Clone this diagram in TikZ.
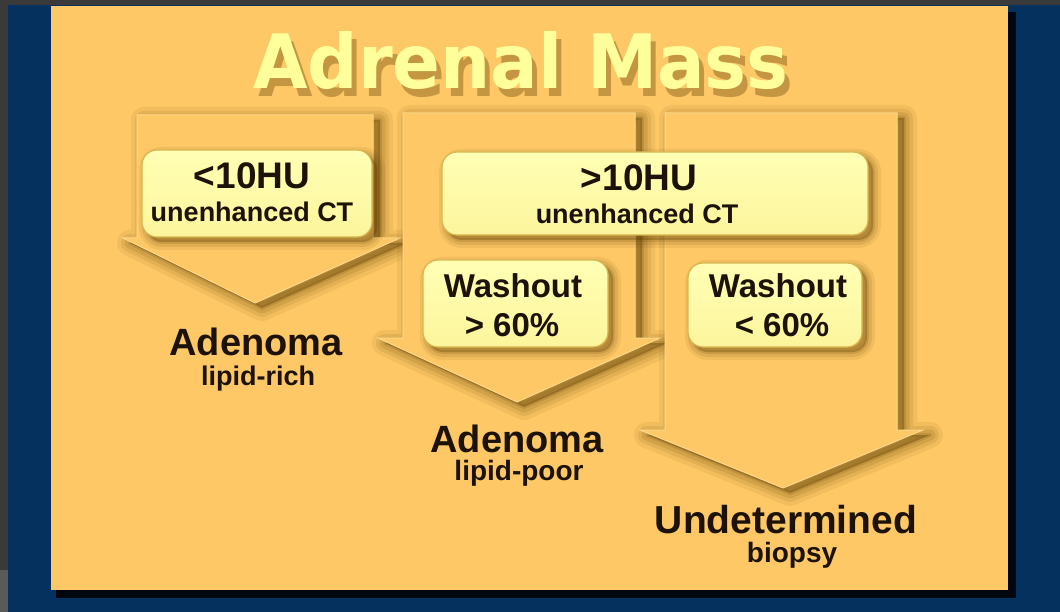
\documentclass[tikz,border=0pt]{standalone}
\usepackage{fontspec}
\setmainfont{Liberation Sans}
\newfontfamily\titlefont{DejaVu Sans}
\definecolor{bggray}{HTML}{3A3A3A}
\definecolor{bggraylt}{HTML}{5A5A5A}
\definecolor{navy}{HTML}{05315F}
\definecolor{panelc}{HTML}{FDC865}
\definecolor{shadowc}{HTML}{5A3A00}
\definecolor{hilite}{HTML}{FFD88A}
\definecolor{boxtop}{HTML}{FFFFB4}
\definecolor{boxbot}{HTML}{FCF59C}
\definecolor{boxedge}{HTML}{D6B650}
\definecolor{inkc}{HTML}{1C1208}
\definecolor{titlec}{HTML}{FFFF9C}
\tikzset{
  boxst/.style={rectangle, rounded corners=15pt, top color=boxtop, bottom color=boxbot, draw=boxedge, line width=1.2pt, inner sep=0pt},
  bigtxt/.style={text=inkc, font=\bfseries\fontsize{38}{40}\selectfont, anchor=base, inner sep=0pt},
  smalltxt/.style={text=inkc, font=\bfseries\fontsize{27}{29}\selectfont, anchor=base, inner sep=0pt},
  hutxt/.style={text=inkc, font=\bfseries\fontsize{37}{39}\selectfont, anchor=base, inner sep=0pt},
  washtxt/.style={text=inkc, font=\bfseries\fontsize{33}{35}\selectfont, anchor=base, inner sep=0pt},
  titletxt/.style={font=\titlefont\bfseries\fontsize{75}{80}\selectfont, anchor=base, inner sep=0pt, xscale=0.94},
}
% block arrow: L, R, top, headbase, headL, headR, tipx, tipy
\newcommand\blockarrow[8]{%
  \foreach \sw/\so in {26/0.07,18/0.09,11/0.12,4/0.15}{%
    \path[draw=shadowc, fill=shadowc, draw opacity=\so, fill opacity=\so, line width=\sw pt, line join=round, xshift=7pt, yshift=-5pt]
      (#1,#3) -- (#2,#3) -- (#2,#4) -- (#6,#4) -- (#7,#8) -- (#5,#4) -- (#1,#4) -- cycle;}%
  \path[fill=panelc, draw=hilite, line width=1pt, line join=miter]
      (#1,#3) -- (#2,#3) -- (#2,#4) -- (#6,#4) -- (#7,#8) -- (#5,#4) -- (#1,#4) -- cycle;
}
% rounded box: name, cx, cy, w, h
\newcommand\ybox[5]{%
  \foreach \sw/\so in {16/0.08,10/0.11,4/0.15}{%
    \path[draw=shadowc, fill=shadowc, draw opacity=\so, fill opacity=\so, line width=\sw pt, rounded corners=15pt, xshift=5pt, yshift=-5pt]
      ({#2-#4/2},{#3-#5/2}) rectangle ({#2+#4/2},{#3+#5/2});}%
  \node[boxst, minimum width=#4pt, minimum height=#5pt] (#1) at (#2,#3) {};
}
\begin{document}
\begin{tikzpicture}[x=1pt, y=-1pt]
  \useasboundingbox (0,0) rectangle (1060,612);
  \clip (0,0) rectangle (1060,612);
  % frame
  \fill[bggray] (0,0) rectangle (1060,612);
  \fill[navy] (8,5) rectangle (1060,612);
  \fill[bggraylt] (0,570) rectangle (8,612);
  \fill[black!85!navy] (56,12) rectangle (1016,598);
  \fill[panelc] (51,6) rectangle (1008,590);
  % title with shadow
  \node[titletxt, text=shadowc, text opacity=0.35] (tshadow) at (526,97) {Adrenal Mass};
  \node[titletxt, text=titlec] (title) at (521,89) {Adrenal Mass};
  % arrows
  \blockarrow{137}{373}{115}{238}{123}{400}{255}{303}
  \blockarrow{403}{635}{113}{338}{378}{660}{517}{402}
  \blockarrow{665}{897}{113}{430}{640}{923}{783}{488}
  % boxes
  \ybox{lowhu}{257}{193.5}{230}{87}
  \ybox{highhu}{655}{193.5}{426}{83}
  \ybox{washhigh}{515.5}{303.5}{185}{87}
  \ybox{washlow}{775}{305}{174}{84}
  % box texts
  \node[hutxt] (lowhuA) at (252,189) {<10HU};
  \node[smalltxt] (lowhuB) at (252,222) {unenhanced CT};
  \node[hutxt] (highhuA) at (639,191) {>10HU};
  \node[smalltxt] (highhuB) at (637,224) {unenhanced CT};
  \node[washtxt] (washhighA) at (513,298) {Washout};
  \node[washtxt] (washhighB) at (512,337) {> 60\%};
  \node[washtxt] (washlowA) at (778,298) {Washout};
  \node[washtxt] (washlowB) at (782,337) {< 60\%};
  % outcomes
  \node[bigtxt] (adrich) at (256,355) {Adenoma};
  \node[smalltxt] (adrichB) at (258,385) {lipid-rich};
  \node[bigtxt] (adpoor) at (517,452) {Adenoma};
  \node[smalltxt, font=\bfseries\fontsize{28}{30}\selectfont] (adpoorB) at (519,480) {lipid-poor};
  \node[bigtxt, font=\bfseries\fontsize{39}{41}\selectfont] (undet) at (786,533) {Undetermined};
  \node[smalltxt, font=\bfseries\fontsize{28}{30}\selectfont] (undetB) at (792,562) {biopsy};
\end{tikzpicture}
\end{document}
